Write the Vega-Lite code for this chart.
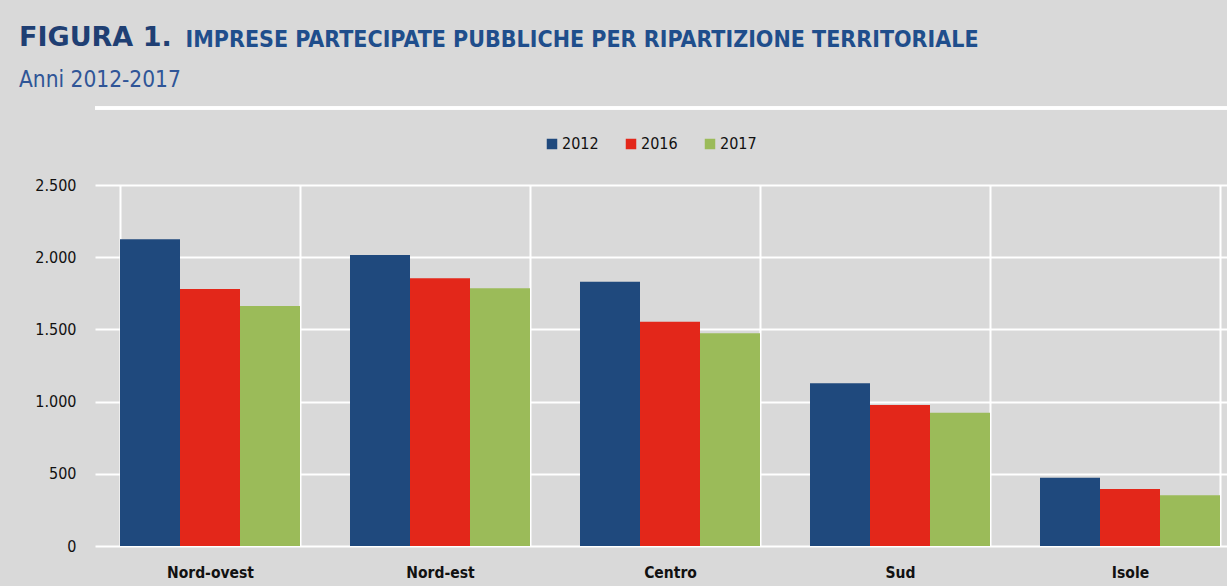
{
  "$schema": "https://vega.github.io/schema/vega-lite/v6.json",
  "autosize": {"type": "none"},
  "width": 1132,
  "height": 361,
  "padding": {"left": 95, "top": 185, "right": 0, "bottom": 40},
  "background": "#d9d9d9",
  "title": {
    "text": "FIGURA 1.",
    "subtitle": "Anni 2012-2017",
    "anchor": "start",
    "frame": "group",
    "dx": -76,
    "offset": -64,
    "font": "DejaVu Sans",
    "fontSize": 27,
    "fontWeight": "bold",
    "color": "#1f3f73",
    "subtitleFont": "'DejaVu Sans Condensed', sans-serif",
    "subtitleFontSize": 22.5,
    "subtitleColor": "#2f5597",
    "subtitlePadding": 17
  },
  "data": {
    "values": [
      {"area": "Nord-ovest", "anno": "2012", "imprese": 2124},
      {"area": "Nord-ovest", "anno": "2016", "imprese": 1780},
      {"area": "Nord-ovest", "anno": "2017", "imprese": 1662},
      {"area": "Nord-est", "anno": "2012", "imprese": 2015},
      {"area": "Nord-est", "anno": "2016", "imprese": 1854},
      {"area": "Nord-est", "anno": "2017", "imprese": 1785},
      {"area": "Centro", "anno": "2012", "imprese": 1830},
      {"area": "Centro", "anno": "2016", "imprese": 1553},
      {"area": "Centro", "anno": "2017", "imprese": 1473},
      {"area": "Sud", "anno": "2012", "imprese": 1127},
      {"area": "Sud", "anno": "2016", "imprese": 976},
      {"area": "Sud", "anno": "2017", "imprese": 923},
      {"area": "Isole", "anno": "2012", "imprese": 473},
      {"area": "Isole", "anno": "2016", "imprese": 395},
      {"area": "Isole", "anno": "2017", "imprese": 351}
    ]
  },
  "layer": [
    {
      "mark": {"type": "bar"},
      "encoding": {
        "x": {
          "field": "area",
          "type": "nominal",
          "sort": ["Nord-ovest", "Nord-est", "Centro", "Sud", "Isole"],
          "scale": {"range": [0, 1150], "paddingInner": 0.2174, "paddingOuter": 0.1087},
          "axis": {
            "title": null,
            "labelAngle": 0,
            "labelFont": "'DejaVu Sans Condensed', sans-serif",
            "labelFontSize": 15.5,
            "labelFontWeight": "bold",
            "labelColor": "#111111",
            "labelPadding": 19,
            "ticks": false,
            "domain": false,
            "grid": true,
            "tickBand": "extent",
            "gridColor": "#ffffff",
            "gridWidth": 2,
            "gridOpacity": 1
          }
        },
        "xOffset": {
          "field": "anno",
          "type": "nominal",
          "scale": {"paddingInner": 0, "paddingOuter": 0}
        },
        "y": {
          "field": "imprese",
          "type": "quantitative",
          "scale": {"domain": [0, 2500], "nice": false},
          "axis": {
            "title": "IMPRESE PARTECIPATE PUBBLICHE PER RIPARTIZIONE TERRITORIALE",
            "titleAngle": 0,
            "titleX": 90,
            "titleY": -139,
            "titleAlign": "left",
            "titleBaseline": "alphabetic",
            "titleFont": "'DejaVu Sans Condensed', sans-serif",
            "titleFontSize": 23,
            "titleFontWeight": "bold",
            "titleColor": "#1f4e8c",
            "values": [0, 500, 1000, 1500, 2000, 2500],
            "labelExpr": "replace(format(datum.value, ','), ',', '.')",
            "labelFont": "'DejaVu Sans Condensed', sans-serif",
            "labelFontSize": 16,
            "labelColor": "#111111",
            "labelPadding": 19,
            "ticks": false,
            "domain": false,
            "grid": true,
            "gridColor": "#ffffff",
            "gridWidth": 2,
            "gridOpacity": 1
          }
        },
        "color": {
          "field": "anno",
          "type": "nominal",
          "scale": {"domain": ["2012", "2016", "2017"], "range": ["#1f497d", "#e3271a", "#9bbb59"]},
          "legend": {
            "title": null,
            "orient": "none",
            "direction": "horizontal",
            "legendX": 449,
            "legendY": -49,
            "symbolType": "square",
            "symbolSize": 110,
            "symbolStrokeWidth": 0,
            "symbolOpacity": 1,
            "labelFont": "'DejaVu Sans Condensed', sans-serif",
            "labelFontSize": 16,
            "labelColor": "#111111",
            "labelOffset": 2,
            "columnPadding": 24
          }
        }
      }
    },
    {
      "mark": {"type": "rule", "color": "#ffffff", "strokeWidth": 2.5},
      "encoding": {"y": {"datum": 3033}}
    }
  ],
  "config": {
    "view": {"stroke": null}
  }
}
